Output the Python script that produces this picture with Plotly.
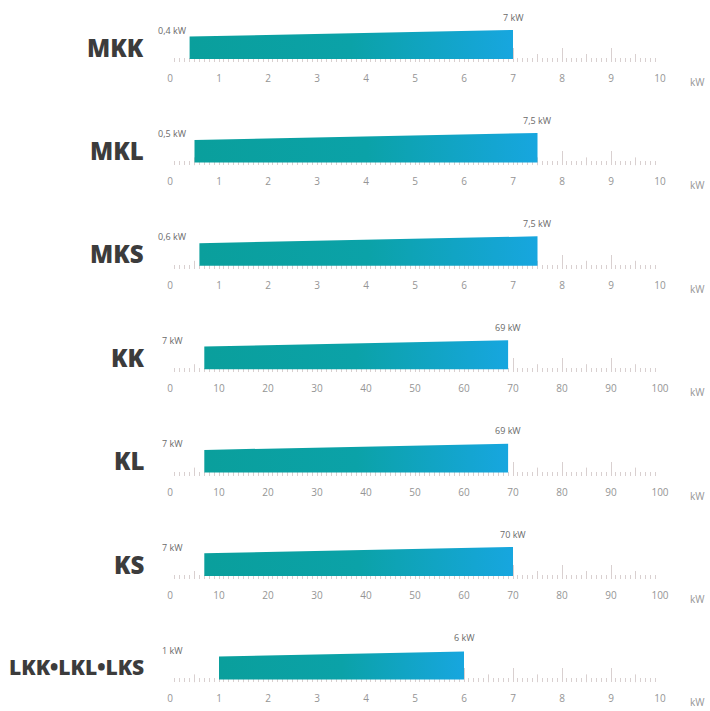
import plotly.graph_objects as go

# Power ranges per model series (kW)
models = ["MKK", "MKL", "MKS", "KK", "KL", "KS", "LKK•LKL•LKS"]
power_min = [0.4, 0.5, 0.6, 7, 7, 7, 1]
power_max = [7, 7.5, 7.5, 69, 69, 70, 6]
scale_max = [10, 10, 10, 100, 100, 100, 10]
min_labels = ["0,4 kW", "0,5 kW", "0,6 kW", "7 kW", "7 kW", "7 kW", "1 kW"]
max_labels = ["7 kW", "7,5 kW", "7,5 kW", "69 kW", "69 kW", "70 kW", "6 kW"]
name_sizes = [24, 24, 24, 24, 24, 24, 21]

W, H = 710, 711
X0_PX, X1_PX = 170, 660       # horizontal extent of each ruler
BASE0, PITCH = 62, 103.4      # baseline of the first ruler and row pitch
BAND = 52                      # height of each row's plotting band (px)

RULER = "#d9d0d0"
TICKTXT = "#959595"
LABEL = "#6a6a6a"
NAME = "#3c3c3c"
GRAD = [[0, "#0a9f9c"], [0.5, "#0ba2a8"], [1, "#17a6df"]]


def paper_y(px):
    return 1 - px / H


fig = go.Figure()
layout = dict(
    template="none",
    width=W, height=H, autosize=False,
    margin=dict(l=0, r=0, t=0, b=0, pad=0, autoexpand=False),
    paper_bgcolor="white", plot_bgcolor="rgba(0,0,0,0)",
    showlegend=False,
    annotations=[],
)

for i, name in enumerate(models):
    n = "" if i == 0 else str(i + 1)
    xa, ya = "x" + n, "y" + n
    base = BASE0 + PITCH * i
    smax = scale_max[i]
    step = smax / 10

    ticks = [round(k * step, 6) for k in range(11)]
    layout["xaxis" + n] = dict(
        domain=[X0_PX / W, X1_PX / W], range=[0, smax], anchor=ya,
        tickvals=ticks, ticktext=[f"{t:g}" for t in ticks],
        ticks="inside", ticklen=14, tickwidth=1, tickcolor=RULER,
        ticklabelstandoff=9,
        tickfont=dict(family="Open Sans", size=10, color=TICKTXT),
        minor=dict(dtick=step / 10, ticks="inside", ticklen=4,
                   tickwidth=1, tickcolor=RULER, showgrid=False),
        showgrid=False, zeroline=False, showline=False, automargin=False,
        fixedrange=True, layer="below traces",
    )
    layout["yaxis" + n] = dict(
        domain=[paper_y(base), paper_y(base - BAND)], range=[0, BAND],
        anchor=xa, visible=False, fixedrange=True, automargin=False,
        showgrid=False, zeroline=False,
    )

    # mid-interval ruler ticks
    hx, hy = [], []
    for k in range(10):
        xv = (k + 0.5) * step
        hx += [xv, xv, None]
        hy += [0, 8, None]
    fig.add_trace(go.Scatter(x=hx, y=hy, mode="lines", xaxis=xa, yaxis=ya,
                             line=dict(color=RULER, width=1), hoverinfo="skip"))

    # tapered bar: height grows along the scale
    lo, hi = power_min[i], power_max[i]

    def top(v):
        return 25 + 10 * v / smax

    fig.add_trace(go.Scatter(
        x=[lo, hi, hi, lo, lo], y=[3, 3, top(hi), top(lo), 3],
        mode="lines", fill="toself", xaxis=xa, yaxis=ya,
        fillgradient=dict(type="horizontal", colorscale=GRAD),
        line=dict(width=0), hoverinfo="skip",
    ))

    ann = layout["annotations"]
    ann.append(dict(x=0, y=32, xref=xa, yref=ya, xshift=2, text=min_labels[i],
                    showarrow=False, xanchor="center", yanchor="middle",
                    font=dict(family="Open Sans", size=9, color=LABEL)))
    ann.append(dict(x=hi, y=45, xref=xa, yref=ya, text=max_labels[i],
                    showarrow=False, xanchor="center", yanchor="middle",
                    font=dict(family="Open Sans", size=9, color=LABEL)))
    ann.append(dict(x=697 / W, y=paper_y(base + 20), xref="paper", yref="paper",
                    text="kW", showarrow=False, xanchor="center", yanchor="middle",
                    font=dict(family="Open Sans", size=10, color=TICKTXT)))
    ann.append(dict(x=146 / W, y=paper_y(base - 15), xref="paper", yref="paper",
                    text=name, showarrow=False, xanchor="right", yanchor="middle",
                    font=dict(family="Open Sans", size=name_sizes[i],
                              color=NAME, weight=800)))

fig.update_layout(**layout)
fig.write_html("out.html")
